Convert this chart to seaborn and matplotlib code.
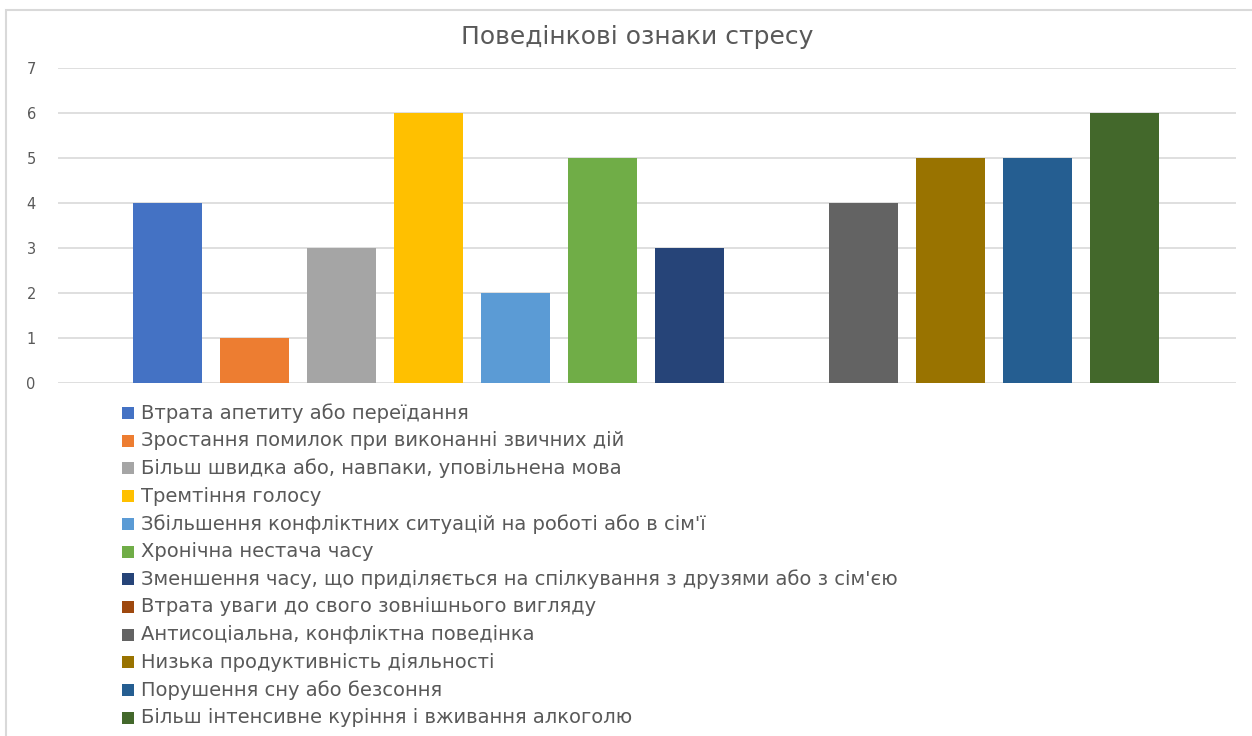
import matplotlib
matplotlib.use("Agg")
import matplotlib.pyplot as plt
from matplotlib.patches import Rectangle
import seaborn as sns
import pandas as pd

categories = [
    "Втрата апетиту або переїдання",
    "Зростання помилок при виконанні звичних дій",
    "Більш швидка або, навпаки, уповільнена мова",
    "Тремтіння голосу",
    "Збільшення конфліктних ситуацій на роботі або в сім'ї",
    "Хронічна нестача часу",
    "Зменшення часу, що приділяється на спілкування з друзями або з сім'єю",
    "Втрата уваги до свого зовнішнього вигляду",
    "Антисоціальна, конфліктна поведінка",
    "Низька продуктивність діяльності",
    "Порушення сну або безсоння",
    "Більш інтенсивне куріння і вживання алкоголю",
]
values = [4, 1, 3, 6, 2, 5, 3, 0, 4, 5, 5, 6]
colors = ["#4472C4", "#ED7D31", "#A5A5A5", "#FFC000", "#5B9BD5", "#70AD47",
          "#264478", "#9E480E", "#636363", "#997300", "#255E91", "#43682B"]
title = "Поведінкові ознаки стресу"

sns.set_theme(style="white")
plt.rcParams["font.family"] = ["DejaVu Sans"]

W, H = 1252, 736
fig = plt.figure(figsize=(W / 100, H / 100), dpi=100)
fig.patch.set_facecolor("white")

# chart-area frame
fig.add_artist(Rectangle((6 / W, -0.1), 1.2, 1 - 10 / H + 0.1,
                         transform=fig.transFigure, fill=False,
                         edgecolor="#d9d9d9", linewidth=1.5))

ax_l, ax_r, ax_t, ax_b = 58, 1236, 68, 383
ax = fig.add_axes([ax_l / W, 1 - ax_b / H, (ax_r - ax_l) / W, (ax_b - ax_t) / H])

df = pd.DataFrame({"cat": categories, "val": values})
sns.barplot(data=df, x="cat", y="val", hue="cat", order=categories,
            hue_order=categories, palette=colors, dodge=False,
            width=0.79, legend=False, ax=ax, saturation=1, linewidth=0)

ax.set_ylim(0, 7)
ax.set_xlim(-1.26, 12.28)
ax.set_yticks(range(0, 8))
ax.yaxis.grid(True, color="#d9d9d9", linewidth=1.2)
ax.set_axisbelow(True)
for s in ax.spines.values():
    s.set_visible(False)
ax.set_xticks([])
ax.set_xlabel("")
ax.set_ylabel("")
ax.tick_params(axis="y", length=0, pad=16, labelsize=10.5, labelcolor="#595959")

fig.text(637 / W, 1 - 37 / H, title, ha="center", va="center",
         fontsize=18, color="#595959")

# legend rows below the plot
y0, dy = 413, 27.7
for i, (lab, c) in enumerate(zip(categories, colors)):
    y = y0 + i * dy
    fig.add_artist(Rectangle((122 / W, 1 - (y + 6) / H), 12 / W, 12 / H,
                             transform=fig.transFigure, facecolor=c,
                             edgecolor="none"))
    fig.text(141 / W, 1 - y / H, lab, ha="left", va="center",
             fontsize=14, color="#595959")

fig.savefig("out.png", dpi=100, facecolor="white")
